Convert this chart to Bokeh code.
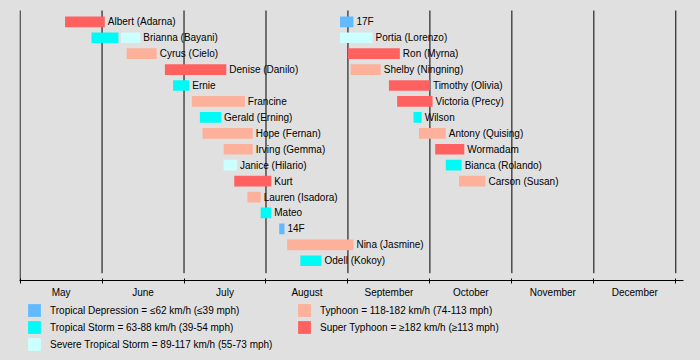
from bokeh.plotting import figure
from bokeh.models import (Range1d, LinearAxis, FixedTicker, ColumnDataSource,
                          Legend, LegendItem, Grid)
from bokeh.layouts import column
from bokeh.embed import file_html
from bokeh.resources import INLINE
from bokeh.core.properties import value

# ---------------- data ----------------
months = ["May", "June", "July", "August", "September", "October", "November", "December"]
month_days = [31, 30, 31, 31, 30, 31, 30, 31]

storm_names = ["Albert (Adarna)", "Brianna (Bayani)", "Cyrus (Cielo)", "Denise (Danilo)",
               "Ernie", "Francine", "Gerald (Erning)", "Hope (Fernan)", "Irving (Gemma)",
               "Janice (Hilario)", "Kurt", "Lauren (Isadora)", "Mateo", "14F",
               "Nina (Jasmine)", "Odell (Kokoy)", "17F", "Portia (Lorenzo)", "Ron (Myrna)",
               "Shelby (Ningning)", "Timothy (Olivia)", "Victoria (Precy)", "Wilson",
               "Antony (Quising)", "Wormadam", "Bianca (Rolando)", "Carson (Susan)"]

seg_storm = [0, 1, 1, 2, 3, 4, 5, 6, 7, 8, 9, 10, 11, 12, 13, 14, 15, 16, 17, 18, 19,
             20, 21, 22, 23, 24, 25, 26]
seg_cat = ["STY", "TS", "STS", "TY", "STY", "TS", "TY", "TS", "TY", "TY", "STS", "STY",
           "TY", "TS", "TD", "TY", "TS", "TD", "STS", "STY", "TY", "STY", "STY", "TS",
           "TY", "STY", "TS", "TY"]
seg_start = ["05/18", "05/28", "06/08", "06/10", "06/24", "06/27", "07/04", "07/07",
             "07/08", "07/16", "07/16", "07/20", "07/25", "07/30", "08/06", "08/09",
             "08/14", "08/29", "08/29", "09/01", "09/02", "09/16", "09/19", "09/25",
             "09/27", "10/03", "10/07", "10/12"]
seg_end = ["06/02", "06/07", "06/15", "06/21", "07/17", "07/03", "07/24", "07/15",
           "07/27", "07/27", "07/21", "08/03", "07/30", "08/03", "08/08", "09/03",
           "08/22", "09/03", "09/10", "09/20", "09/13", "10/01", "10/02", "09/28",
           "10/07", "10/14", "10/13", "10/22"]

cat_keys = ["TD", "TS", "STS", "TY", "STY"]
cat_labels = ["Tropical Depression = \u226462 km/h (\u226439 mph)",
              "Tropical Storm = 63-88 km/h (39-54 mph)",
              "Severe Tropical Storm = 89-117 km/h (55-73 mph)",
              "Typhoon = 118-182 km/h (74-113 mph)",
              "Super Typhoon = \u2265182 km/h (\u2265113 mph)"]
cat_colors = ["#61baff", "#00faf5", "#ccffff", "#fdb09a", "#ff6161"]

rows_per_column = 16

# ---------------- helpers ----------------
FONT = "Liberation Sans"
BG = "#e0e0e0"


def mpos(s):
    mo, d = (int(t) for t in s.split("/"))
    i = mo - 5
    return i + (d - 1) / month_days[i]


half_h = 0.336

# ---------------- main timeline ----------------
p = figure(width=700, height=302, x_range=Range1d(-0.0073, 8.094),
           y_range=Range1d(16.24, -1.337), output_backend="svg",
           toolbar_location=None, title=None, x_axis_location=None,
           y_axis_location=None, min_border_left=19, min_border_right=17,
           min_border_top=0, min_border_bottom=22,
           background_fill_color=BG, border_fill_color=BG, outline_line_color=None)
for r in list(p.center):
    if isinstance(r, Grid):
        r.visible = False

# month grid lines
nb = len(months) + 1
p.segment(x0=list(range(nb)), x1=list(range(nb)), y0=[-0.709] * nb,
          y1=[16.24] + [15.78] * (nb - 1), line_color="black", line_width=1)

# bars
for key, col in zip(cat_keys, cat_colors):
    idx = [i for i, c in enumerate(seg_cat) if c == key]
    rows = [seg_storm[i] % rows_per_column for i in idx]
    src = ColumnDataSource(dict(
        left=[mpos(seg_start[i]) for i in idx],
        right=[mpos(seg_end[i]) for i in idx],
        top=[r - half_h for r in rows],
        bottom=[r + half_h for r in rows]))
    p.quad(left="left", right="right", top="top", bottom="bottom", source=src,
           fill_color=col, line_color=None)

# labels
lab_x = []
for s in range(len(storm_names)):
    lab_x.append(max(mpos(seg_end[i]) for i in range(len(seg_storm)) if seg_storm[i] == s))
lab_src = ColumnDataSource(dict(x=lab_x,
                                y=[s % rows_per_column for s in range(len(storm_names))],
                                text=storm_names))
p.text(x="x", y="y", text="text", source=lab_src, x_offset=3, text_baseline="middle",
       text_align="left", text_font=value(FONT), text_font_size="10px",
       text_color="black")

# month axis
mids = [i + 0.5 for i in range(len(months))]
ax = LinearAxis(ticker=FixedTicker(ticks=mids, minor_ticks=list(range(nb))),
                major_label_overrides={m: name for m, name in zip(mids, months)})
ax.axis_line_color = "black"
ax.axis_line_width = 1
ax.major_tick_line_color = None
ax.major_tick_in = 0
ax.major_tick_out = 0
ax.minor_tick_line_color = "black"
ax.minor_tick_in = 2
ax.minor_tick_out = 3
ax.major_label_standoff = 3
ax.major_label_text_font = FONT
ax.major_label_text_font_size = "10px"
ax.major_label_text_color = "black"
p.add_layout(ax, "below")

# ---------------- legend strip ----------------
q = figure(width=700, height=58, x_range=Range1d(0, 1), y_range=Range1d(0, 1),
           output_backend="svg", toolbar_location=None, title=None,
           x_axis_location=None, y_axis_location=None, min_border_left=19,
           min_border_right=17, min_border_top=0, min_border_bottom=0,
           background_fill_color=BG, border_fill_color=BG, outline_line_color=None)
for r in list(q.center):
    if isinstance(r, Grid):
        r.visible = False

nan = float("nan")
items = []
for key, lab, col in zip(cat_keys, cat_labels, cat_colors):
    rr = q.quad(left=[nan], right=[nan], top=[nan], bottom=[nan],
                fill_color=col, line_color=None)
    items.append(LegendItem(label=lab, renderers=[rr]))

legend = Legend(items=items, location=(7, 8), orientation="vertical", nrows=3,
                glyph_width=16, glyph_height=16, label_height=16, label_width=245,
                spacing=1, label_standoff=8, padding=0, margin=0,
                border_line_color=None, background_fill_alpha=0,
                label_text_font=FONT, label_text_font_size="10px",
                label_text_color="black")
q.add_layout(legend)

layout = column(p, q, spacing=0)

html = file_html(layout, INLINE)
html = html.replace("<head>",
                    "<head><style>html,body{background:#e0e0e0;margin:0;padding:0;}</style>", 1)
open("out.html", "w").write(html)
